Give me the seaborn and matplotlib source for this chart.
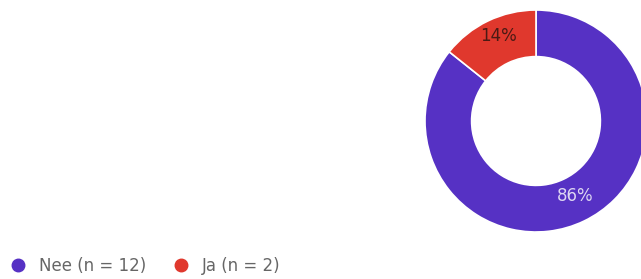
import matplotlib
matplotlib.use("Agg")
import matplotlib.pyplot as plt
import matplotlib.transforms as mtransforms
from matplotlib.lines import Line2D
import seaborn as sns

categories = ["Nee", "Ja"]
counts = [12, 2]
legend_labels = ["Nee (n = 12)", "Ja (n = 2)"]
pct_labels = ["86%", "14%"]

sns.set_theme(style="white")
plt.rcParams['font.family'] = ['DejaVu Sans']
colors = sns.color_palette(["#5631c4", "#e0382d"])

W, H = 641, 279
fig = plt.figure(figsize=(W / 100, H / 100), dpi=100)
cx, cy, R = 536, 121, 111
ax = fig.add_axes([(cx - R) / W, (H - cy - R) / H, 2 * R / W, 2 * R / H])
wedges, texts = ax.pie(counts, colors=colors, startangle=90, counterclock=False,
                       radius=1.0, labels=pct_labels, labeldistance=0.8,
                       wedgeprops=dict(width=0.42, edgecolor="white", linewidth=1.2),
                       textprops=dict(fontsize=12))
for t, c in zip(texts, ["#ddd6f2", "#4a1a14"]):
    t.set_color(c)
    t.set_ha("center")
    t.set_va("center")
    t.set_transform(mtransforms.offset_copy(t.get_transform(), fig=fig,
                                            x=1, y=5, units="dots"))
ax.set_xlim(-1, 1)
ax.set_ylim(-1, 1)
ax.set_aspect("equal")
ax.axis("off")

handles = [Line2D([0], [0], marker="o", linestyle="", markersize=9,
                  markerfacecolor=c, markeredgecolor=c) for c in colors]
fig.legend(handles, legend_labels, loc="center left",
           bbox_to_anchor=(0.0, (H - 266) / H), ncol=2, frameon=False,
           fontsize=12, labelcolor="#666666", handlelength=1.0,
           handletextpad=0.75, borderpad=0.3, borderaxespad=0.28,
           columnspacing=1.6)

fig.savefig("out.png", dpi=100, facecolor="white")
